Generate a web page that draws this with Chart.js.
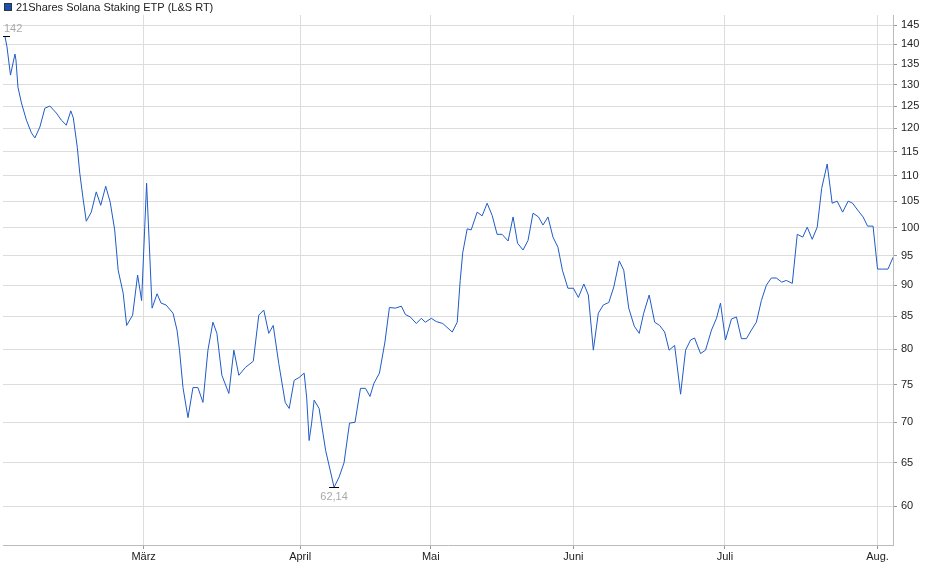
<!DOCTYPE html>
<html><head><meta charset="utf-8">
<script src="https://cdn.jsdelivr.net/npm/chart.js@4"></script>
<style>html,body{margin:0;padding:0;background:#fff}#w{width:940px;height:579px}</style>
</head><body><div id="w"><canvas id="c"></canvas></div>
<script>
const seriesName = "21Shares Solana Staking ETP (L&S RT)";
const tradingDay = [0.4,0.8,1.5,2.4,2.6,3,3.7,4.7,5.7,6.4,7.4,8.4,9.4,10.7,11.7,12.7,13.6,14.1,14.9,15.4,16.1,16.7,17.7,18.7,19.6,20.6,21.5,22.4,23.1,24.1,24.8,26,27,27.8,28.8,29.9,30.9,31.7,32.7,34.1,34.9,35.4,36.1,37.1,38.1,39.1,40.1,41.1,42.1,42.9,43.9,45.3,46.3,47.3,48.6,50.2,51.3,52.3,53.3,54.2,55.3,56.6,57.4,58.4,59.4,60.4,60.9,61.4,61.9,62.4,63.4,64.7,66.4,67.4,68.4,69.5,70.6,71.7,72.7,73.6,74.4,75.5,76.6,77.5,78.7,79.9,80.7,81.7,82.9,83.9,84.7,85.9,86.9,88.2,90.1,91.1,91.7,92.2,93.1,93.9,95.1,96.1,97.1,98.1,99.1,100.1,101.3,102.3,103.2,104.3,105.3,106.3,107.4,108.3,109.3,110.3,111.3,112.2,113.3,114.4,115.4,116.5,117.4,118.4,119.4,120.4,121.5,122.5,123.6,124.5,125.5,126.6,127.6,128.5,129.6,130.7,131.7,132.7,133.6,134.7,135.9,136.9,137.9,138.7,139.9,140.9,142.1,143.1,143.9,144.9,146.1,147.1,148.1,149.1,150.1,151.1,152.1,153.1,154.1,155.1,156.2,157.1,158.3,159.3,160.4,161.3,162.3,163.3,164.2,165.3,166.3,167.3,168.4,169.5,170.4,171.4,172.5,173.4,174.5,175.4,176.4,177.5,178.5];
const price = [142,139.3,132.3,137.5,136.0,129.4,125.7,121.8,119.0,117.9,120.3,124.5,125.0,123.4,121.8,120.7,123.9,122.3,115.9,110.5,105.2,101.2,102.9,106.8,104.2,107.9,104.8,99.6,92.5,88.7,83.6,85.2,91.7,87.5,108.5,86.3,88.6,87.1,86.8,85.5,82.9,79.9,74.6,70.6,74.6,74.6,72.6,79.9,84.1,82.4,76.3,73.8,79.9,76.3,77.4,78.3,85.2,86.0,82.4,83.6,78.0,72.6,71.8,75.6,76.0,76.6,73.3,67.7,69.9,72.9,71.8,66.5,62.14,63.3,65.0,69.9,70.0,74.5,74.5,73.4,75.2,76.6,81.1,86.4,86.3,86.6,85.3,84.9,83.9,84.7,84.1,84.7,84.2,83.9,82.6,84.1,90.8,95.5,99.8,99.6,102.9,102.2,104.6,102.3,98.8,98.8,97.6,102.0,97.2,96.0,97.7,102.7,102.0,100.5,102.0,98.3,96.5,92.5,89.5,89.5,88.0,90.2,88.4,79.9,85.5,86.8,87.2,89.7,94.1,92.5,86.3,83.5,82.4,85.5,88.4,84.1,83.6,82.6,79.9,80.6,73.7,79.9,81.4,81.7,79.4,79.9,82.9,84.7,87.1,81.4,84.6,84.9,81.6,81.6,82.9,84.1,87.5,90.0,91.2,91.2,90.5,90.8,90.3,98.8,98.3,100.1,97.9,100.1,107.5,112.4,104.6,105.0,102.9,105.0,104.6,103.3,102.0,100.3,100.3,92.7,92.7,92.7,94.7];
const monthLabels = ["März","April","Mai","Juni","Juli","Aug."];
const monthPos = [28.2,59.6,85.8,114.4,144.8,175.4];
const yTicks = [60,65,70,75,80,85,90,95,100,105,110,115,120,125,130,135,140,145];
const maxLabel = "142", minLabel = "62,14";

const pts = tradingDay.map((t,i)=>({x:t,y:price[i]}));
const FONT = "'Liberation Sans', Arial, sans-serif";

const deco = {
  id:'deco',
  afterDraw(chart){
    const {ctx, scales:{x,y}} = chart;
    ctx.save();
    // legend
    ctx.fillStyle='#1a4fb5'; ctx.fillRect(4,3,8,8);
    ctx.strokeStyle='#333'; ctx.lineWidth=1; ctx.strokeRect(4.5,3.5,7,7);
    ctx.fillStyle='#222'; ctx.font='11px '+FONT; ctx.textBaseline='middle'; ctx.textAlign='left';
    ctx.fillText(seriesName,16,7.5);
    // max / min markers
    let iMax=0,iMin=0;
    price.forEach((v,i)=>{if(v>price[iMax])iMax=i; if(v<price[iMin])iMin=i;});
    const mx=x.getPixelForValue(tradingDay[iMax]), my=y.getPixelForValue(price[iMax]);
    const nx=x.getPixelForValue(tradingDay[iMin]), ny=y.getPixelForValue(price[iMin]);
    ctx.strokeStyle='#000'; ctx.beginPath();
    ctx.moveTo(Math.max(mx-5,x.left),Math.round(my)+0.5); ctx.lineTo(mx+5,Math.round(my)+0.5);
    ctx.moveTo(nx-5,Math.round(ny)+0.5); ctx.lineTo(nx+5,Math.round(ny)+0.5); ctx.stroke();
    ctx.fillStyle='#aaa'; ctx.font='11px '+FONT;
    ctx.textAlign='left'; ctx.textBaseline='bottom'; ctx.fillText(maxLabel,x.left+1,my-2);
    ctx.textAlign='center'; ctx.textBaseline='top'; ctx.fillText(minLabel,nx,ny+4);
    ctx.restore();
  }
};

new Chart(document.getElementById('c'),{
  type:'line',
  data:{datasets:[{data:pts,borderColor:'#1f5bc8',borderWidth:1,pointRadius:0,tension:0,fill:false}]},
  options:{
    responsive:true,maintainAspectRatio:false,animation:false,
    layout:{padding:{left:3,top:15,right:0,bottom:0}},
    plugins:{legend:{display:false},tooltip:{enabled:false}},
    scales:{
      x:{type:'linear',min:0,max:178.5,
        afterBuildTicks:s=>{s.ticks=monthPos.map(v=>({value:v}));},
        afterFit:s=>{s.height=34;},
        ticks:{autoSkip:false,maxRotation:0,color:'#222',font:{size:11,family:FONT},padding:1,
          callback:(v)=>{const i=monthPos.indexOf(v);return i>=0?monthLabels[i]:'';}},
        grid:{color:'#dcdcdc',tickLength:4,tickColor:'#999'},
        border:{color:'#bbb'}},
      y:{type:'logarithmic',position:'right',min:55.9,max:147.7,
        afterBuildTicks:s=>{s.ticks=yTicks.map(v=>({value:v}));},
        afterFit:s=>{s.width=47;},
        ticks:{color:'#222',font:{size:11,family:FONT},padding:4,callback:v=>String(v)},
        grid:{color:'#dcdcdc',tickLength:4,tickColor:'#999'},
        border:{color:'#bbb'}}
    }
  },
  plugins:[deco]
});
</script></body></html>
